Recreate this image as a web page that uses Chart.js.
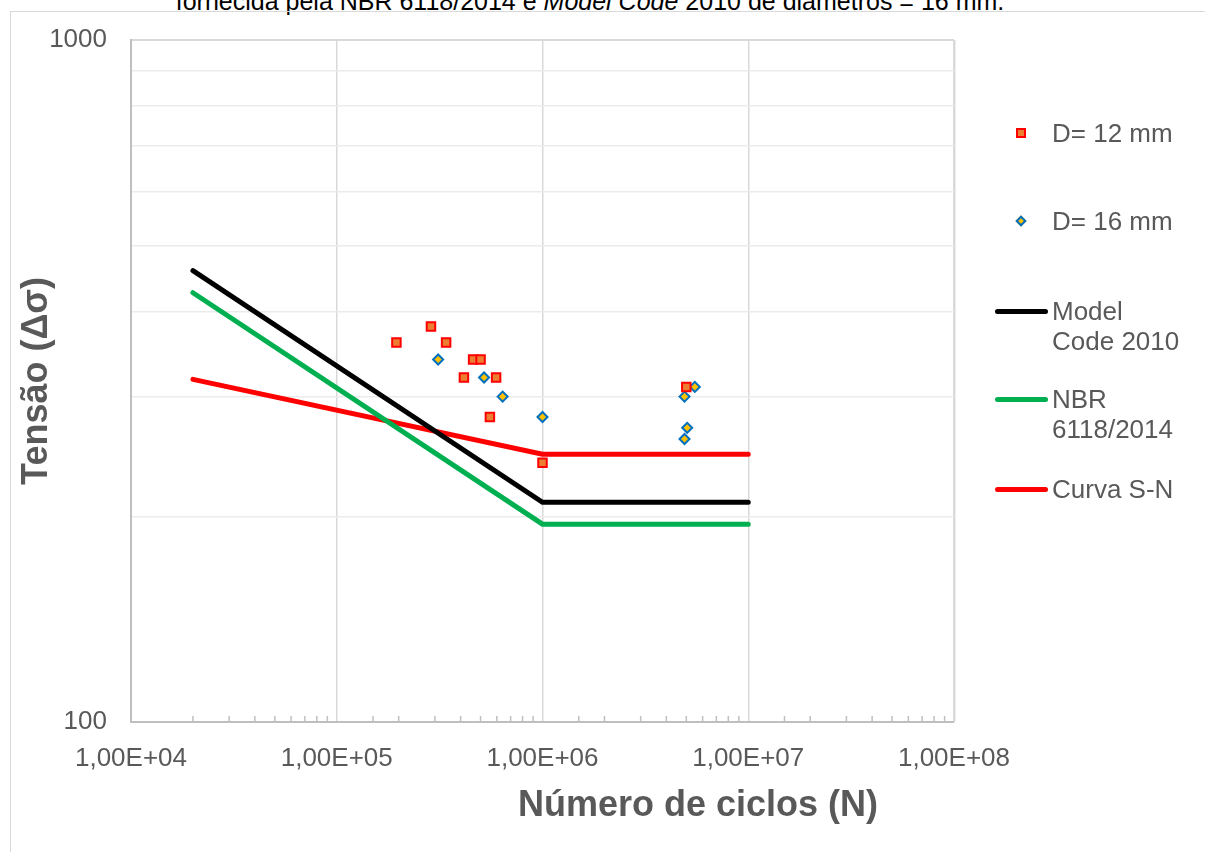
<!DOCTYPE html>
<html lang="pt">
<head>
    <meta charset="UTF-8">
    <title>Curva S-N</title>
    <script src="https://cdn.jsdelivr.net/npm/chart.js@4.4.1/dist/chart.umd.min.js"></script>
    <style>
        body{
            margin: 0;
            width: 1205px;
            height: 852px;
            overflow: hidden;
            position: relative;
            background: #fff;
            font-family: "Liberation Sans", Arial, sans-serif;
        }
        .frame{
            position: absolute;
            left: 10px;
            top: 11px;
            width: 1300px;
            height: 1000px;
            border: 1.5px solid #d9d9d9;
        }
        .caption{
            position: absolute;
            left: 590px;
            top: -11px;
            transform: translateX(-50%);
            white-space: nowrap;
            font-size: 25px;
            line-height: 25px;
            color: #000;
        }
        #chart{
            position: absolute;
            left: 0;
            top: 0;
        }
        .xtitle{
            position: absolute;
            left: 698px;
            top: 782px;
            transform: translateX(-50%);
            white-space: nowrap;
            font-size: 36px;
            line-height: 43px;
            font-weight: bold;
            color: #595959;
        }
        .item{
            position: absolute;
            left: 990px;
            width: 215px;
            height: 60px;
        }
        .item .txt{
            position: absolute;
            left: 62px;
            top: 0;
            width: 140px;
            font-size: 26px;
            line-height: 30px;
            color: #595959;
        }
        .sym{
            position: absolute;
        }
    </style>
</head>
<body>
    <div class="caption">fornecida pela NBR 6118/2014 e <i>Model Code</i> 2010 de diâmetros = 16 mm.</div>
    <div class="frame"></div>
    <canvas id="chart" width="1205" height="852"></canvas>
    <div class="xtitle">Número de ciclos (N)</div>
    <div id="legend"></div>
    <script>
        // ensaios, barras D = 12 mm
        var cycles12 = [195000, 287000, 340000, 415000, 460000, 500000, 555000, 595000, 1000000, 5000000];
        var stress12 = [360, 380, 360, 320, 340, 340, 280, 320, 240, 310];
        // ensaios, barras D = 16 mm
        var cycles16 = [311000, 520000, 640000, 1000000, 4900000, 4900000, 5050000, 5500000];
        var stress16 = [340, 320, 300, 280, 300, 260, 270, 310];
        // curvas de resistencia
        var curveCycles = [20000, 1000000, 10000000];
        var modelCode = [459, 210, 210];
        var nbr = [426, 195, 195];
        var curvaSN = [318, 247, 247];

        var fontFamily = '"Liberation Sans", Arial, sans-serif';

        function points(xs, ys) {
            return xs.map(function(x, i) { return {x: x, y: ys[i]}; });
        }
        function isMajor(v) {
            var l = Math.log10(v);
            return Math.abs(l - Math.round(l)) < 1e-9;
        }

        var minorTicks = {
            id: 'minorTicks',
            beforeDatasetsDraw: function(chart) {
                var sx = chart.scales.x, ctx = chart.ctx, b = chart.chartArea.bottom;
                ctx.save();
                ctx.strokeStyle = '#bfbfbf';
                ctx.lineWidth = 1.5;
                sx.ticks.forEach(function(t) {
                    if (isMajor(t.value)) return;
                    var px = sx.getPixelForValue(t.value);
                    ctx.beginPath();
                    ctx.moveTo(px, b);
                    ctx.lineTo(px, b - 6);
                    ctx.stroke();
                });
                ctx.restore();
            }
        };

        var datasets = [
            {
                label: 'D= 12 mm', data: points(cycles12, stress12),
                pointStyle: 'rect', pointRadius: 6, borderWidth: 2,
                borderColor: '#ff0000', backgroundColor: '#ed7d31', order: 0
            },
            {
                label: 'D= 16 mm', data: points(cycles16, stress16),
                pointStyle: 'rectRot', pointRadius: 5, borderWidth: 2,
                borderColor: '#0070c0', backgroundColor: '#ffc000', order: 0
            },
            {
                label: 'Model Code 2010', data: points(curveCycles, modelCode),
                showLine: true, pointRadius: 0, borderWidth: 5, borderColor: '#000000',
                borderCapStyle: 'round', order: 1
            },
            {
                label: 'NBR 6118/2014', data: points(curveCycles, nbr),
                showLine: true, pointRadius: 0, borderWidth: 5, borderColor: '#00b050',
                borderCapStyle: 'round', order: 1
            },
            {
                label: 'Curva S-N', data: points(curveCycles, curvaSN),
                showLine: true, pointRadius: 0, borderWidth: 5, borderColor: '#ff0000',
                borderCapStyle: 'round', order: 1
            }
        ];

        var chart = new Chart(document.getElementById('chart'), {
            type: 'scatter',
            data: {datasets: datasets},
            plugins: [minorTicks],
            options: {
                responsive: false,
                animation: false,
                devicePixelRatio: 1,
                events: [],
                layout: {padding: {top: 40, right: 251, left: 0, bottom: 0}},
                plugins: {legend: {display: false}, tooltip: {enabled: false}},
                scales: {
                    x: {
                        type: 'logarithmic',
                        min: 10000,
                        max: 100000000,
                        afterFit: function(s) { s.height = 130; },
                        border: {color: '#bfbfbf', width: 2},
                        grid: {
                            drawTicks: false,
                            color: function(c) { return c.tick && isMajor(c.tick.value) ? '#d9d9d9' : 'rgba(0,0,0,0)'; },
                            lineWidth: function(c) { return c.tick && c.tick.value >= 100000000 ? 2.5 : 1.5; }
                        },
                        ticks: {
                            autoSkip: false,
                            maxRotation: 0,
                            padding: 21,
                            color: '#595959',
                            font: {size: 26, family: fontFamily},
                            callback: function(v) {
                                if (!isMajor(v)) return '';
                                return '1,00E+' + String(Math.round(Math.log10(v))).padStart(2, '0');
                            }
                        }
                    },
                    y: {
                        type: 'logarithmic',
                        min: 100,
                        max: 1000,
                        afterFit: function(s) { s.width = 131; },
                        border: {color: '#bfbfbf', width: 2},
                        grid: {
                            drawTicks: false,
                            color: function(c) {
                                if (!c.tick) return 'rgba(0,0,0,0)';
                                var v = Math.round(c.tick.value);
                                if (v === 1000) return '#d9d9d9';
                                if (v === 100 || v % 100 !== 0) return 'rgba(0,0,0,0)';
                                return '#ebebeb';
                            },
                            lineWidth: function(c) { return c.tick && c.tick.value === 1000 ? 2 : 1.5; }
                        },
                        ticks: {
                            autoSkip: false,
                            padding: 24,
                            color: '#595959',
                            font: {size: 26, family: fontFamily},
                            callback: function(v) { return (v === 100 || v === 1000) ? String(v) : ''; }
                        },
                        title: {
                            display: true,
                            text: 'Tensão (Δσ)',
                            color: '#595959',
                            font: {size: 36, weight: 'bold', family: fontFamily},
                            padding: {top: 15, bottom: 0}
                        }
                    }
                }
            }
        });

        // legenda ao lado do grafico
        var legendY = [133, 221, 311, 399, 489];
        var legend = document.getElementById('legend');
        chart.data.datasets.forEach(function(ds, i) {
            var item = document.createElement('div');
            item.className = 'item';
            item.style.top = (legendY[i] - 15) + 'px';
            var sym = document.createElement('span');
            sym.className = 'sym';
            if (ds.showLine) {
                sym.style.cssText = 'left:5px;top:12.5px;width:53px;height:5px;border-radius:3px;background:' + ds.borderColor;
            } else if (ds.pointStyle === 'rect') {
                sym.style.cssText = 'left:26px;top:10px;width:6px;height:6px;background:' + ds.backgroundColor + ';border:2px solid ' + ds.borderColor;
            } else {
                sym.style.cssText = 'left:27px;top:11px;width:4px;height:4px;transform:rotate(45deg);background:' + ds.backgroundColor + ';border:2px solid ' + ds.borderColor;
            }
            var txt = document.createElement('span');
            txt.className = 'txt';
            txt.textContent = ds.label;
            item.appendChild(sym);
            item.appendChild(txt);
            legend.appendChild(item);
        });
    </script>
</body>
</html>
